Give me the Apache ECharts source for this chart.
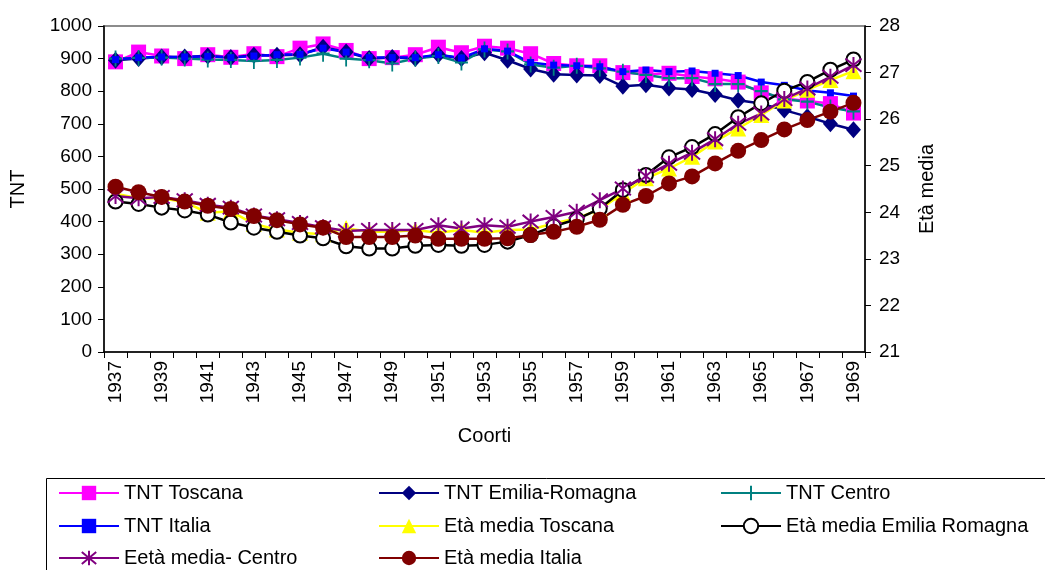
<!DOCTYPE html>
<html>
<head>
<meta charset="utf-8">
<script src="https://cdn.jsdelivr.net/npm/echarts@6/dist/echarts.min.js"></script>
<style>
  html, body { margin: 0; padding: 0; background: #fff; }
  #chart { width: 1045px; height: 570px; }
</style>
</head>
<body>
<div id="chart"></div>
<script>
// Birth cohorts
const years = ['1937','1938','1939','1940','1941','1942','1943','1944','1945','1946','1947',
  '1948','1949','1950','1951','1952','1953','1954','1955','1956','1957','1958',
  '1959','1960','1961','1962','1963','1964','1965','1966','1967','1968','1969'];

// TNT (left axis)
const tntToscana = [890,920,908,900,912,904,915,906,932,945,925,
  900,903,912,935,918,938,932,915,885,878,878,
  857,852,855,845,838,828,795,778,770,762,733];
const tntEmilia = [895,900,905,905,908,903,910,910,912,935,920,
  900,903,900,912,900,918,895,868,852,850,848,
  815,820,810,805,790,772,762,742,722,700,682];
const tntCentro = [900,902,903,900,897,896,893,896,903,915,900,
  895,885,900,908,888,928,922,882,872,878,870,
  860,850,840,840,822,822,800,775,768,750,738];
const tntItalia = [897,903,905,905,907,903,908,912,913,932,920,
  903,903,903,912,902,930,923,888,880,878,875,
  860,865,860,862,855,848,828,818,802,795,785];

// Mean age (right axis)
const etaToscana = [24.40,24.30,24.30,24.22,23.99,24.02,23.75,23.63,23.56,23.53,23.66,
  23.58,23.58,23.62,23.56,23.62,23.56,23.62,23.63,23.76,23.87,24.06,
  24.41,24.73,24.94,25.19,25.52,25.80,26.09,26.40,26.63,26.84,27.03];
const etaEmilia = [24.23,24.18,24.10,24.04,23.95,23.78,23.67,23.58,23.50,23.44,23.27,
  23.22,23.22,23.28,23.30,23.28,23.30,23.37,23.51,23.70,23.85,24.08,
  24.48,24.80,25.18,25.40,25.68,26.04,26.34,26.61,26.80,27.06,27.28];
const etaCentro = [24.35,24.30,24.33,24.26,24.16,24.10,23.93,23.85,23.77,23.68,23.60,
  23.62,23.62,23.62,23.72,23.65,23.72,23.69,23.80,23.90,24.01,24.26,
  24.51,24.78,25.04,25.28,25.57,25.90,26.12,26.43,26.66,26.91,27.16];
const etaItalia = [24.55,24.43,24.33,24.23,24.14,24.07,23.92,23.83,23.74,23.67,23.47,
  23.47,23.47,23.50,23.43,23.43,23.43,23.44,23.51,23.58,23.69,23.84,
  24.16,24.35,24.62,24.77,25.05,25.32,25.55,25.78,25.98,26.16,26.35];

const FONT = "'Liberation Sans', Arial, sans-serif";
const PLUS = 'path://M5,0 L5,10 M0,5 L10,5';
const STAR = 'path://M5,0 L5,10 M0.8,0.8 L9.2,9.2 M9.2,0.8 L0.8,9.2';

function line(name, data, axis, color, symbol, size, extra) {
  return Object.assign({
    name: name,
    type: 'line',
    yAxisIndex: axis,
    data: data,
    symbol: symbol,
    symbolSize: size,
    showAllSymbol: true,
    animation: false,
    lineStyle: { color: color, width: 2.5 },
    itemStyle: { color: color },
    emphasis: { disabled: true }
  }, extra || {});
}

const series = [
  line('TNT Toscana', tntToscana, 0, '#FF00FF', 'rect', 15),
  line('TNT Emilia-Romagna', tntEmilia, 0, '#000080', 'diamond', [15, 17]),
  line('TNT Centro', tntCentro, 0, '#008080', PLUS, [13, 16],
    { itemStyle: { color: '#008080', borderColor: '#008080', borderWidth: 2 } }),
  line('TNT Italia', tntItalia, 0, '#0000FF', 'rect', 7),
  line('Età media Toscana', etaToscana, 1, '#FFFF00', 'triangle', 16),
  line('Età media Emilia Romagna', etaEmilia, 1, '#000000', 'circle', 14,
    { itemStyle: { color: '#FFFFFF', borderColor: '#000000', borderWidth: 2 } }),
  line('Eetà media- Centro', etaCentro, 1, '#800080', STAR, 16,
    { itemStyle: { color: '#800080', borderColor: '#800080', borderWidth: 2 } }),
  line('Età media Italia', etaItalia, 1, '#800000', 'circle', 16)
];

// Legend: three columns, three rows, one component per entry
const legendCols = [58, 378, 720];
const legendRows = [492, 525, 557];
const legendCells = [
  ['TNT Toscana', 0, 0], ['TNT Emilia-Romagna', 1, 0], ['TNT Centro', 2, 0],
  ['TNT Italia', 0, 1], ['Età media Toscana', 1, 1], ['Età media Emilia Romagna', 2, 1],
  ['Eetà media- Centro', 0, 2], ['Età media Italia', 1, 2]
];
const legends = legendCells.map(function (c) {
  return {
    orient: 'horizontal',
    left: legendCols[c[1]],
    top: legendRows[c[2]] - 9,
    padding: 0,
    itemWidth: 60,
    itemHeight: 18,
    itemGap: 0,
    selectedMode: false,
    data: [c[0]],
    textStyle: { fontFamily: FONT, fontSize: 20, color: '#000' }
  };
});

const chart = echarts.init(document.getElementById('chart'), null, { renderer: 'canvas' });
chart.setOption({
  backgroundColor: '#fff',
  animation: false,
  grid: {
    left: 104, right: 180, top: 26, bottom: 218,
    show: true, borderColor: '#8c8c8c', borderWidth: 2, backgroundColor: 'transparent'
  },
  xAxis: {
    type: 'category',
    data: years,
    boundaryGap: true,
    name: 'Coorti',
    nameLocation: 'middle',
    nameGap: 74,
    nameTextStyle: { fontFamily: FONT, fontSize: 20, color: '#000' },
    axisLine: { lineStyle: { color: '#000', width: 1.5 } },
    axisTick: { show: true, interval: 0, length: 6, lineStyle: { color: '#000' } },
    axisLabel: { interval: 1, rotate: 90, margin: 9, fontFamily: FONT, fontSize: 19, color: '#000' },
    splitLine: { show: false }
  },
  yAxis: [
    {
      type: 'value', position: 'left', min: 0, max: 1000, interval: 100,
      name: 'TNT', nameLocation: 'middle', nameGap: 76, nameRotate: 90,
      nameTextStyle: { fontFamily: FONT, fontSize: 20, color: '#000' },
      axisLine: { show: true, lineStyle: { color: '#000', width: 1.5 } },
      axisTick: { show: true, length: 6, lineStyle: { color: '#000' } },
      axisLabel: { margin: 12, fontFamily: FONT, fontSize: 19, color: '#000',
        formatter: function (v) { return String(v); } },
      splitLine: { show: false }
    },
    {
      type: 'value', position: 'right', min: 21, max: 28, interval: 1,
      name: 'Età media', nameLocation: 'middle', nameGap: 52, nameRotate: 90,
      nameTextStyle: { fontFamily: FONT, fontSize: 20, color: '#000' },
      axisLine: { show: true, lineStyle: { color: '#000', width: 1.5 } },
      axisTick: { show: true, length: 6, lineStyle: { color: '#000' } },
      axisLabel: { margin: 14, fontFamily: FONT, fontSize: 19, color: '#000' },
      splitLine: { show: false }
    }
  ],
  legend: legends,
  graphic: [{
    type: 'rect',
    silent: true,
    shape: { x: 46.5, y: 478.5, width: 1100, height: 200 },
    style: { fill: 'none', stroke: '#000', lineWidth: 1 }
  }],
  series: series
});
</script>
</body>
</html>
